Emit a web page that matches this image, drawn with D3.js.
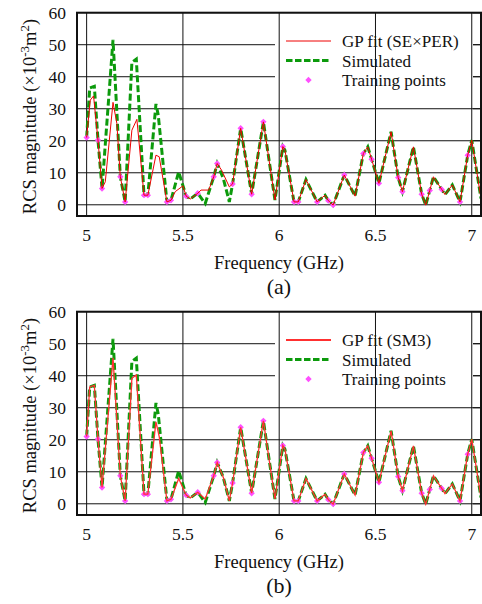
<!DOCTYPE html>
<html>
<head>
<meta charset="utf-8">
<script src="https://cdn.jsdelivr.net/npm/d3@7"></script>
<style>
  body { margin: 0; background: #fff; }
  svg { display: block; }
  text { font-family: "Liberation Serif", "Times New Roman", serif; fill: #111; }
</style>
</head>
<body>
<svg id="chart" width="482" height="604"></svg>
<script>
//simulated RCS, shared by both panels (GHz, x1e-3 m^2)
const simFreq = [5.000, 5.016, 5.040, 5.059, 5.080, 5.137, 5.175, 5.200, 5.235, 5.258, 5.298, 5.318,
  5.360, 5.372, 5.417, 5.438, 5.478, 5.517, 5.538, 5.577, 5.616, 5.660, 5.678, 5.710, 5.741, 5.758,
  5.800, 5.857, 5.918, 5.978, 6.019, 6.030, 6.077, 6.099, 6.139, 6.197, 6.238, 6.255, 6.280, 6.338,
  6.394, 6.437, 6.460, 6.480, 6.518, 6.581, 6.618, 6.640, 6.697, 6.740, 6.761, 6.782, 6.801, 6.844,
  6.861, 6.899, 6.939, 6.979, 7.000, 7.048]
const simVal = [21.0, 36.5, 37.0, 20.2, 5.1, 51.5, 8.75, 0.9, 44.5, 45.5, 3.0, 3.0,
  31.5, 28.0, 0.9, 1.4, 10.3, 2.7, 1.8, 3.6, 0.4, 8.75, 12.9, 8.2, 0.9, 6.5,
  23.9, 3.3, 25.9, 1.5, 18.2, 17.0, 0.9, 0.9, 7.9, 0.9, 3.0, 1.3, -0.1, 9.3,
  2.7, 16.0, 18.1, 14.2, 6.7, 22.8, 8.5, 4.1, 18.1, 3.3, -0.1, 4.5, 8.75, 4.8,
  3.2, 6.2, 0.9, 15.5, 20.2, 2.0]

//GP fit (SExPER), panel a
const gpAFreq = [5.000, 5.019, 5.036, 5.059, 5.080, 5.097, 5.137, 5.157, 5.175, 5.200, 5.235, 5.261,
  5.298, 5.318, 5.360, 5.377, 5.417, 5.438, 5.460, 5.500, 5.517, 5.538, 5.577, 5.594, 5.634, 5.660,
  5.678, 5.701, 5.741, 5.758, 5.800, 5.857, 5.918, 5.978, 6.019, 6.030, 6.077, 6.099, 6.139, 6.197,
  6.238, 6.255, 6.280, 6.338, 6.394, 6.437, 6.460, 6.480, 6.518, 6.581, 6.618, 6.640, 6.697, 6.740,
  6.761, 6.782, 6.801, 6.844, 6.861, 6.899, 6.939, 6.979, 7.000, 7.048]
const gpAVal = [21.0, 32.7, 34.0, 20.2, 5.1, 7.2, 32.0, 25.4, 8.75, 0.9, 23.3, 26.7,
  3.0, 3.0, 15.5, 15.0, 0.9, 1.4, 4.1, 5.9, 2.7, 1.8, 3.6, 4.6, 4.6, 8.75,
  12.9, 10.8, 5.6, 6.5, 23.9, 3.3, 25.9, 1.5, 18.2, 17.0, 0.9, 0.9, 7.9, 0.9,
  3.0, 1.3, -0.1, 9.3, 2.7, 16.0, 18.1, 14.2, 6.7, 22.8, 8.5, 4.1, 18.1, 3.3,
  -0.1, 4.5, 8.75, 4.8, 3.2, 6.2, 0.9, 15.5, 20.2, 2.0]

//GP fit (SM3), panel b
const gpBFreq = [5.000, 5.016, 5.040, 5.059, 5.080, 5.137, 5.175, 5.200, 5.235, 5.258, 5.298, 5.318,
  5.360, 5.377, 5.417, 5.438, 5.478, 5.517, 5.538, 5.577, 5.616, 5.660, 5.678, 5.710, 5.741, 5.758,
  5.800, 5.857, 5.918, 5.978, 6.019, 6.030, 6.077, 6.099, 6.139, 6.197, 6.238, 6.255, 6.280, 6.338,
  6.394, 6.437, 6.460, 6.480, 6.518, 6.581, 6.618, 6.640, 6.697, 6.740, 6.761, 6.782, 6.801, 6.844,
  6.861, 6.899, 6.939, 6.979, 7.000, 7.048]
const gpBVal = [21.0, 36.5, 37.0, 20.2, 5.1, 45.6, 8.75, 0.9, 39.2, 40.2, 3.0, 3.0,
  25.6, 21.0, 0.9, 1.4, 7.9, 2.7, 1.8, 3.6, 1.5, 8.75, 12.9, 8.2, 0.9, 6.5,
  23.9, 3.3, 25.9, 1.5, 18.2, 17.0, 0.9, 0.9, 7.9, 0.9, 3.0, 1.3, -0.1, 9.3,
  2.7, 16.0, 18.1, 14.2, 6.7, 22.8, 8.5, 4.1, 18.1, 3.3, -0.1, 4.5, 8.75, 4.8,
  3.2, 6.2, 0.9, 15.5, 20.2, 2.0]

//training points
const trainFreq = [5.000, 5.059, 5.080, 5.175, 5.200, 5.298, 5.318, 5.417, 5.438, 5.517, 5.577, 5.660,
  5.678, 5.758, 5.800, 5.857, 5.918, 6.019, 6.077, 6.099, 6.197, 6.255, 6.280, 6.338, 6.437, 6.480,
  6.518, 6.618, 6.640, 6.740, 6.782, 6.844, 6.939, 6.979]
const trainVal = [21.0, 20.2, 5.1, 8.75, 0.9, 3.0, 3.0, 0.9, 1.4, 2.7, 3.6, 8.75,
  12.9, 6.5, 23.9, 3.3, 25.9, 18.2, 0.9, 0.9, 0.9, 1.3, -0.1, 9.3, 16.0, 14.2,
  6.7, 8.5, 4.1, 3.3, 4.5, 4.8, 0.9, 15.5]

const xTicks = [5, 5.5, 6, 6.5, 7]
const yTicks = [0, 10, 20, 30, 40, 50, 60]

const panels = [
  { top: 0, gpFreq: gpAFreq, gpVal: gpAVal, gpLabel: "GP fit (SE\u00D7PER)", gpColor: "#ee0000", gpWidth: 1, caption: "(a)" },
  { top: 299, gpFreq: gpBFreq, gpVal: gpBVal, gpLabel: "GP fit (SM3)", gpColor: "#ff3030", gpWidth: 1.3, caption: "(b)" }
]

const svg = d3.select("#chart")
const left = 77, right = 481, plotTop = 12.7, plotBottom = 216

const x = d3.scaleLinear().domain([4.95, 7.048]).range([left, right])
const y = d3.scaleLinear().domain([-3.5, 60]).range([plotBottom, plotTop])

const green = "#0c9a0c", magenta = "#ff50ff"
const zip = (f, v) => f.map((d, i) => [d, v[i]])

const line = d3.line().x(d => x(d[0])).y(d => y(d[1]))
const marker = d3.symbol().type(d3.symbolSquare).size(20)

panels.forEach((p, pi) => {
  const g = svg.append("g").attr("transform", "translate(0," + p.top + ")")

  g.append("clipPath").attr("id", "clip" + pi)
    .append("rect").attr("x", left).attr("y", plotTop).attr("width", right - left).attr("height", plotBottom - plotTop)

  //horizontal grid
  g.append("g").selectAll("line").data(yTicks).enter().append("line")
    .attr("x1", left).attr("x2", right)
    .attr("y1", d => y(d)).attr("y2", d => y(d))
    .attr("stroke", "#111").attr("stroke-width", 1)

  //legend background hides the grid behind it
  g.append("rect").attr("x", 275).attr("y", plotTop + 1).attr("width", 198).attr("height", 84)
    .attr("fill", "#fff")

  //vertical grid
  g.append("g").selectAll("line").data(xTicks).enter().append("line")
    .attr("x1", d => x(d)).attr("x2", d => x(d))
    .attr("y1", plotTop).attr("y2", plotBottom)
    .attr("stroke", "#111").attr("stroke-width", 1)

  //inward ticks on the right edge
  g.append("g").selectAll("line").data(yTicks).enter().append("line")
    .attr("x1", right - 8).attr("x2", right)
    .attr("y1", d => y(d)).attr("y2", d => y(d))
    .attr("stroke", "#111").attr("stroke-width", 1)

  const plot = g.append("g").attr("clip-path", "url(#clip" + pi + ")")

  plot.append("path").datum(zip(simFreq, simVal))
    .attr("d", line).attr("fill", "none")
    .attr("stroke", green).attr("stroke-width", 3)
    .attr("stroke-dasharray", "7,3").attr("stroke-linejoin", "miter")

  plot.append("g").selectAll("path").data(zip(trainFreq, trainVal)).enter().append("path")
    .attr("d", marker)
    .attr("transform", d => "translate(" + x(d[0]) + "," + y(d[1]) + ") rotate(45)")
    .attr("fill", magenta)

  plot.append("path").datum(zip(p.gpFreq, p.gpVal))
    .attr("d", line).attr("fill", "none")
    .attr("stroke", p.gpColor).attr("stroke-width", p.gpWidth)

  //frame
  g.append("rect").attr("x", left).attr("y", plotTop).attr("width", right - left).attr("height", plotBottom - plotTop)
    .attr("fill", "none").attr("stroke", "#111").attr("stroke-width", 2)

  //tick labels
  g.append("g").selectAll("text").data(yTicks).enter().append("text")
    .attr("x", 66).attr("y", d => y(d) + 6)
    .attr("text-anchor", "end").attr("font-size", 17.5)
    .text(d => d)
  g.append("g").selectAll("text").data(xTicks).enter().append("text")
    .attr("x", d => x(d)).attr("y", 240.5)
    .attr("text-anchor", "middle").attr("font-size", 17.5)
    .text(d => d)

  g.append("text").attr("x", 279).attr("y", 269)
    .attr("text-anchor", "middle").attr("font-size", 18.5)
    .text("Frequency (GHz)")
  g.append("text").attr("x", 279).attr("y", 294)
    .attr("text-anchor", "middle").attr("font-size", 22)
    .text(p.caption)

  const yl = g.append("text")
    .attr("transform", "translate(36,116.5) rotate(-90)")
    .attr("text-anchor", "middle").attr("font-size", 18.5)
  yl.append("tspan").text("RCS magnitude (\u00D710")
  yl.append("tspan").attr("dy", -7).attr("font-size", 13).text("-3")
  yl.append("tspan").attr("dy", 7).text("m")
  yl.append("tspan").attr("dy", -7).attr("font-size", 13).text("2")
  yl.append("tspan").attr("dy", 7).text(")")

  //legend
  const legend = g.append("g")
  const rows = [41, 60.5, 80]
  legend.append("line").attr("x1", 286).attr("x2", 331).attr("y1", rows[0]).attr("y2", rows[0])
    .attr("stroke", p.gpColor).attr("stroke-width", pi === 0 ? 1 : 2)
  legend.append("line").attr("x1", 286).attr("x2", 331).attr("y1", rows[1]).attr("y2", rows[1])
    .attr("stroke", green).attr("stroke-width", 3).attr("stroke-dasharray", "6.5,2.5")
  legend.append("path").attr("d", marker)
    .attr("transform", "translate(308.5," + rows[2] + ") rotate(45)").attr("fill", magenta)
  const labels = [p.gpLabel, "Simulated", "Training points"]
  legend.selectAll("text").data(labels).enter().append("text")
    .attr("x", 342).attr("y", (d, i) => rows[i] + 6)
    .attr("font-size", 17)
    .text(d => d)
})
</script>
</body>
</html>
